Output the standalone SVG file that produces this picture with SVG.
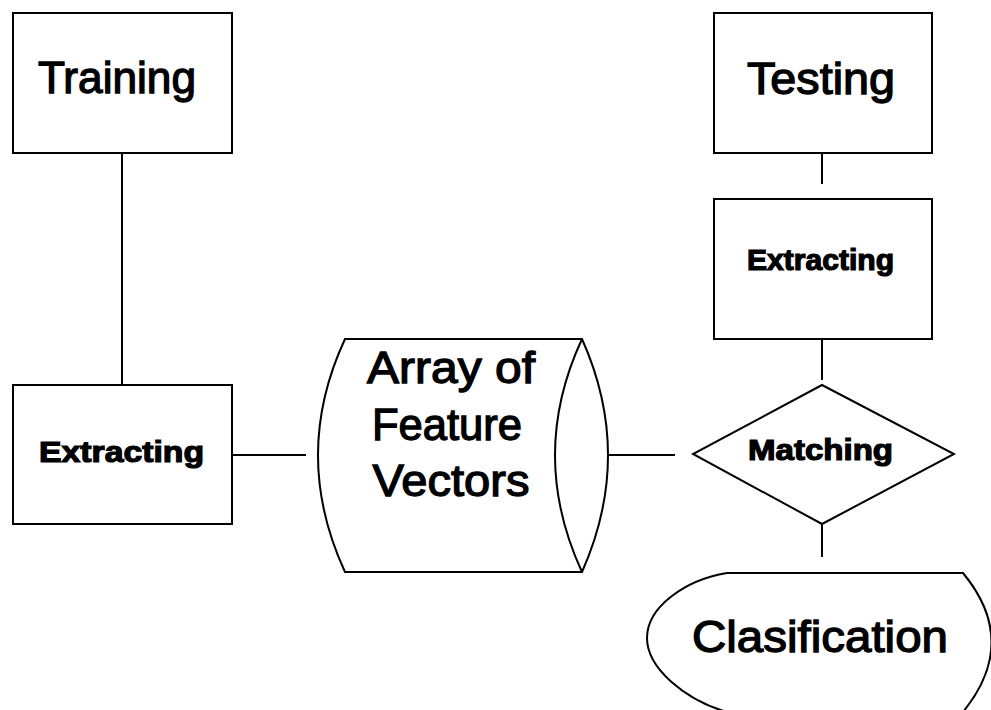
<svg xmlns="http://www.w3.org/2000/svg" width="991" height="710" viewBox="0 0 991 710">
  <style>
    .shape { fill: #fff; stroke: #000; stroke-width: 2; }
    .wire { fill: none; stroke: #000; stroke-width: 2; }
    .big { font-family: "Liberation Sans", Arial, sans-serif; font-size: 44px; fill: #000; stroke: #000; stroke-width: 1.3; text-anchor: middle; }
    .heavy { font-family: "Liberation Sans", Arial, sans-serif; font-size: 29px; font-weight: bold; fill: #000; stroke: #000; stroke-width: 1.2; text-anchor: middle; }
  </style>
  <rect width="991" height="710" fill="#fff"/>

  <!-- connectors -->
  <g id="connectors">
    <line class="wire" x1="122" y1="153" x2="122" y2="384"/>
    <line class="wire" x1="232" y1="455" x2="306" y2="455"/>
    <line class="wire" x1="608" y1="455" x2="675" y2="455"/>
    <line class="wire" x1="822" y1="153" x2="822" y2="184"/>
    <line class="wire" x1="822" y1="339" x2="822" y2="380"/>
    <line class="wire" x1="822" y1="524" x2="822" y2="557"/>
  </g>

  <g id="training">
    <rect class="shape" x="13" y="13" width="219" height="140"/>
    <text class="big" x="117" y="93" textLength="158" lengthAdjust="spacingAndGlyphs">Training</text>
  </g>

  <g id="testing">
    <rect class="shape" x="714" y="13" width="218" height="140"/>
    <text class="big" x="821" y="94" textLength="148" lengthAdjust="spacingAndGlyphs">Testing</text>
  </g>

  <g id="extracting-train">
    <rect class="shape" x="13" y="385" width="219" height="139"/>
    <text class="heavy" x="121.5" y="462" textLength="165" lengthAdjust="spacingAndGlyphs">Extracting</text>
  </g>

  <g id="extracting-test">
    <rect class="shape" x="714" y="199" width="218" height="140"/>
    <text class="heavy" x="820.5" y="270" font-size="26" textLength="147" lengthAdjust="spacingAndGlyphs">Extracting</text>
  </g>

  <!-- stored data drum -->
  <g id="feature-store">
    <path class="shape" d="M345,339 L582,339 Q634,455 582,572 L345,572 Q291,455 345,339 Z"/>
    <path class="wire" d="M582,339 Q528,455 582,572"/>
    <text class="big" x="451" y="383" textLength="168" lengthAdjust="spacingAndGlyphs">Array of</text>
    <text class="big" x="447" y="440" textLength="150" lengthAdjust="spacingAndGlyphs">Feature</text>
    <text class="big" x="451" y="496" textLength="157" lengthAdjust="spacingAndGlyphs">Vectors</text>
  </g>

  <g id="matching">
    <polygon class="shape" points="822,385 954,454 822,524 693,454"/>
    <text class="heavy" x="820.5" y="460" textLength="145" lengthAdjust="spacingAndGlyphs">Matching</text>
  </g>

  <!-- display shape, runs past the lower and right edges -->
  <g id="classification">
    <path class="shape" d="M727,573 L963,573 Q1020,642 963,712 L727,712 C685,700 647,668 647,638 C647,607 685,580 727,573 Z"/>
    <text class="big" x="820" y="652" textLength="256" lengthAdjust="spacingAndGlyphs">Clasification</text>
  </g>
</svg>
